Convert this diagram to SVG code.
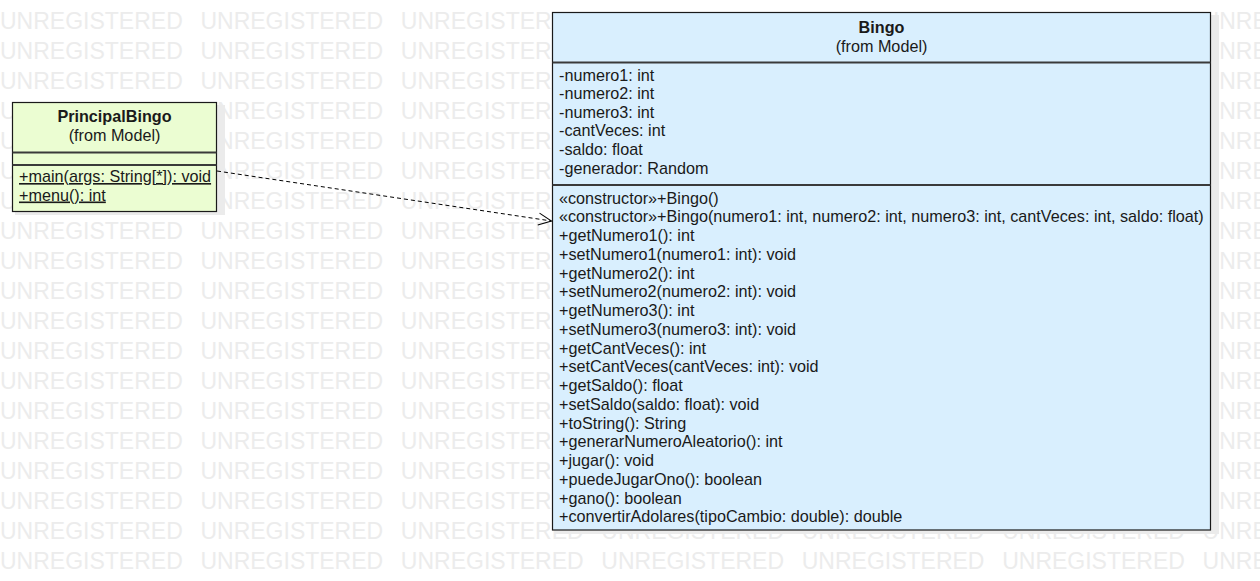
<svg xmlns="http://www.w3.org/2000/svg" width="1260" height="581" viewBox="0 0 1260 581">
<style>
.wm{font-family:"Liberation Sans",Arial,sans-serif;font-size:23px;fill:#ececec;word-spacing:11.3px}
.t{font-family:"Liberation Sans",Arial,sans-serif;font-size:16.2px;fill:#1a1a1a}
.b{font-weight:bold;text-anchor:middle}
.c{text-anchor:middle}
.u{text-decoration:underline}
.box{stroke:#1a1a1a;stroke-width:1.2}
.sep{stroke:#3a3a3a;stroke-width:1.8}
.sh{fill:#ebebeb}
</style>
<defs>
<marker id="open" markerWidth="16" markerHeight="14" refX="14" refY="7" orient="auto" markerUnits="userSpaceOnUse">
<path d="M1,1 L14,7 L1,13" fill="none" stroke="#000" stroke-width="1"/>
</marker>
</defs>
<rect width="1260" height="581" fill="#fff"/>
<g id="watermark">
<text class="wm" x="0" y="28.5">UNREGISTERED UNREGISTERED UNREGISTERED UNREGISTERED UNREGISTERED UNREGISTERED UNREGISTERED</text>
<text class="wm" x="0" y="58.5">UNREGISTERED UNREGISTERED UNREGISTERED UNREGISTERED UNREGISTERED UNREGISTERED UNREGISTERED</text>
<text class="wm" x="0" y="88.5">UNREGISTERED UNREGISTERED UNREGISTERED UNREGISTERED UNREGISTERED UNREGISTERED UNREGISTERED</text>
<text class="wm" x="0" y="118.5">UNREGISTERED UNREGISTERED UNREGISTERED UNREGISTERED UNREGISTERED UNREGISTERED UNREGISTERED</text>
<text class="wm" x="0" y="148.5">UNREGISTERED UNREGISTERED UNREGISTERED UNREGISTERED UNREGISTERED UNREGISTERED UNREGISTERED</text>
<text class="wm" x="0" y="178.5">UNREGISTERED UNREGISTERED UNREGISTERED UNREGISTERED UNREGISTERED UNREGISTERED UNREGISTERED</text>
<text class="wm" x="0" y="208.5">UNREGISTERED UNREGISTERED UNREGISTERED UNREGISTERED UNREGISTERED UNREGISTERED UNREGISTERED</text>
<text class="wm" x="0" y="238.5">UNREGISTERED UNREGISTERED UNREGISTERED UNREGISTERED UNREGISTERED UNREGISTERED UNREGISTERED</text>
<text class="wm" x="0" y="268.5">UNREGISTERED UNREGISTERED UNREGISTERED UNREGISTERED UNREGISTERED UNREGISTERED UNREGISTERED</text>
<text class="wm" x="0" y="298.5">UNREGISTERED UNREGISTERED UNREGISTERED UNREGISTERED UNREGISTERED UNREGISTERED UNREGISTERED</text>
<text class="wm" x="0" y="328.5">UNREGISTERED UNREGISTERED UNREGISTERED UNREGISTERED UNREGISTERED UNREGISTERED UNREGISTERED</text>
<text class="wm" x="0" y="358.5">UNREGISTERED UNREGISTERED UNREGISTERED UNREGISTERED UNREGISTERED UNREGISTERED UNREGISTERED</text>
<text class="wm" x="0" y="388.5">UNREGISTERED UNREGISTERED UNREGISTERED UNREGISTERED UNREGISTERED UNREGISTERED UNREGISTERED</text>
<text class="wm" x="0" y="418.5">UNREGISTERED UNREGISTERED UNREGISTERED UNREGISTERED UNREGISTERED UNREGISTERED UNREGISTERED</text>
<text class="wm" x="0" y="448.5">UNREGISTERED UNREGISTERED UNREGISTERED UNREGISTERED UNREGISTERED UNREGISTERED UNREGISTERED</text>
<text class="wm" x="0" y="478.5">UNREGISTERED UNREGISTERED UNREGISTERED UNREGISTERED UNREGISTERED UNREGISTERED UNREGISTERED</text>
<text class="wm" x="0" y="508.5">UNREGISTERED UNREGISTERED UNREGISTERED UNREGISTERED UNREGISTERED UNREGISTERED UNREGISTERED</text>
<text class="wm" x="0" y="538.5">UNREGISTERED UNREGISTERED UNREGISTERED UNREGISTERED UNREGISTERED UNREGISTERED UNREGISTERED</text>
<text class="wm" x="0" y="568.5">UNREGISTERED UNREGISTERED UNREGISTERED UNREGISTERED UNREGISTERED UNREGISTERED UNREGISTERED</text>
</g>
<g id="PrincipalBingo">
<rect class="sh" x="15" y="105" width="210" height="110"/>
<rect class="box" x="12.5" y="102.5" width="204" height="109" fill="#ebfdd2"/>
<line class="sep" x1="12.5" y1="152.5" x2="216.5" y2="152.5"/>
<line class="sep" x1="12.5" y1="165" x2="216.5" y2="165"/>
<text class="t b" x="114.5" y="121.5">PrincipalBingo</text>
<text class="t c" x="114.5" y="141">(from Model)</text>
<text class="t u" x="19" y="182">+main(args: String[*]): void</text>
<text class="t u" x="19" y="200.5">+menu(): int</text>
</g>
<g id="Bingo">
<rect class="sh" x="555" y="15" width="664" height="519"/>
<rect class="box" x="552.5" y="12.5" width="658" height="517.5" fill="#d9effe"/>
<line class="sep" x1="552.5" y1="62.5" x2="1210.5" y2="62.5"/>
<line class="sep" x1="552.5" y1="185" x2="1210.5" y2="185"/>
<text class="t b" x="881.5" y="32.5">Bingo</text>
<text class="t c" x="881.5" y="51.5">(from Model)</text>
<text class="t" x="559">
<tspan x="559" y="80.5">-numero1: int</tspan>
<tspan x="559" y="99.1">-numero2: int</tspan>
<tspan x="559" y="117.7">-numero3: int</tspan>
<tspan x="559" y="136.3">-cantVeces: int</tspan>
<tspan x="559" y="154.9">-saldo: float</tspan>
<tspan x="559" y="173.5">-generador: Random</tspan>
</text>
<text class="t" x="559">
<tspan x="559" y="203.5">«constructor»+Bingo()</tspan>
<tspan x="559" y="222.25">«constructor»+Bingo(numero1: int, numero2: int, numero3: int, cantVeces: int, saldo: float)</tspan>
<tspan x="559" y="241">+getNumero1(): int</tspan>
<tspan x="559" y="259.75">+setNumero1(numero1: int): void</tspan>
<tspan x="559" y="278.5">+getNumero2(): int</tspan>
<tspan x="559" y="297.25">+setNumero2(numero2: int): void</tspan>
<tspan x="559" y="316">+getNumero3(): int</tspan>
<tspan x="559" y="334.75">+setNumero3(numero3: int): void</tspan>
<tspan x="559" y="353.5">+getCantVeces(): int</tspan>
<tspan x="559" y="372.25">+setCantVeces(cantVeces: int): void</tspan>
<tspan x="559" y="391">+getSaldo(): float</tspan>
<tspan x="559" y="409.75">+setSaldo(saldo: float): void</tspan>
<tspan x="559" y="428.5">+toString(): String</tspan>
<tspan x="559" y="447.25">+generarNumeroAleatorio(): int</tspan>
<tspan x="559" y="466">+jugar(): void</tspan>
<tspan x="559" y="484.75">+puedeJugarOno(): boolean</tspan>
<tspan x="559" y="503.5">+gano(): boolean</tspan>
<tspan x="559" y="522.25">+convertirAdolares(tipoCambio: double): double</tspan>
</text>
</g>
<g id="connectors">
<line x1="217" y1="171" x2="551.5" y2="221" stroke="#000" stroke-width="1" stroke-dasharray="4 3" marker-end="url(#open)"/>
</g>
</svg>
